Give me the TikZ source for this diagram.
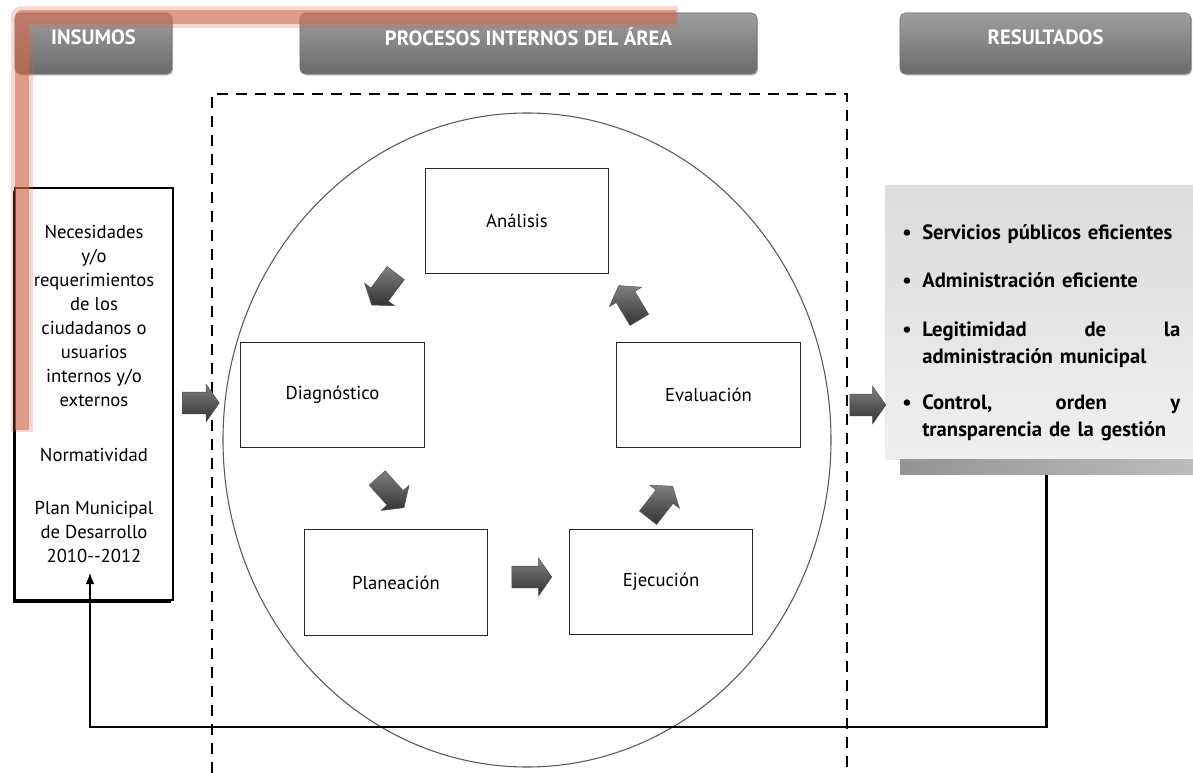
\documentclass[tikz,border=0pt]{standalone}
\usepackage{fontspec}
\setmainfont{PT Sans}
\usetikzlibrary{shapes.geometric,shapes.arrows,shadows,calc,arrows.meta}
\definecolor{glow}{RGB}{210,105,78}
\begin{document}
\begin{tikzpicture}[x=0.75pt,y=-0.75pt]
\tikzset{
 hdrbox/.style={rounded corners=4pt, top color=black!38, bottom color=black!58, draw=black!58, line width=0.4pt, drop shadow={shadow xshift=0.8pt, shadow yshift=-1.2pt, opacity=0.45}, inner sep=0, minimum height=45.75pt},
 hdrtext/.style={text=white, font=\bfseries\fontsize{15.5}{18}\selectfont, inner sep=0},
 procbox/.style={draw=black!85, line width=0.9pt, minimum width=137.5pt, minimum height=79pt, inner sep=0, font=\fontsize{14}{16}\selectfont, fill=white},
 blockarrow/.style={single arrow, inner xsep=0pt, inner ysep=8pt, minimum width=0pt, minimum height=30pt, single arrow head extend=6pt, single arrow tip angle=110, top color=black!50, bottom color=black!80, draw=black!70, line width=0.3pt},
 restext/.style={font=\bfseries\fontsize{15.5}{20}\selectfont, text width=193.5pt, align=left, inner sep=0, anchor=west},
 fb/.style={line width=2.2pt, -{Latex[length=9pt,width=6.5pt]}},
}
\useasboundingbox (0,0) rectangle (1193,773);
\fill[white] (0,0) rectangle (1193,773);

% header boxes
\node[hdrbox, minimum width=117.75pt] (hIns) at (93.5,43.5) {};
\node[hdrbox, minimum width=342.75pt] (hPro) at (528.5,43.5) {};
\node[hdrbox, minimum width=218.25pt] (hRes) at (1045.5,43.5) {};
\node[hdrtext] (tIns) at (93.5,37) {INSUMOS};
\node[hdrtext] (tPro) at (528.5,37) {PROCESOS INTERNOS DEL ÁREA};
\node[hdrtext] (tRes) at (1045.5,37) {RESULTADOS};

% ellipse and dashed frame
\node[ellipse, draw=black!65, line width=0.8pt, minimum width=456pt, minimum height=490.5pt, inner sep=0] (circ) at (527,440) {};
\draw[line width=2pt, dash pattern=on 8.25pt off 6pt] (212,773) -- (212,94) -- (847,94) -- (847,773);

% process boxes
\node[procbox] (ana) at (517,221) {Análisis};
\node[procbox] (dia) at (332.5,395) {Diagnóstico};
\node[procbox] (eva) at (708.5,395) {Evaluación};
\node[procbox] (pla) at (396,582.5) {Planeación};
\node[procbox] (eje) at (661,582) {Ejecución};

% block arrows in cycle
\node[blockarrow, rotate=233] (a1) at (386,286) {};
\node[blockarrow, rotate=-48] (a2) at (388,490) {};
\node[blockarrow] (a3) at (528,577) {};
\node[blockarrow, rotate=52] (a4) at (658,505) {};
\node[blockarrow, rotate=121] (a5) at (631,306) {};

% left box
\node[draw=black, line width=1.2pt, fill=white, minimum width=118.5pt, minimum height=309pt, inner sep=0, align=center, font=\fontsize{14}{18}\selectfont, drop shadow={shadow xshift=-1.5pt, shadow yshift=-2pt, opacity=1, fill=black}] (left) at (94,394) {Necesidades\\y/o\\requerimientos\\de los\\ciudadanos o\\usuarios\\internos y/o\\externos\\[23pt]Normatividad\\[22pt]Plan Municipal\\de Desarrollo\\2010-{}-2012};

% results box
\node[minimum width=231pt, minimum height=206pt, top color=black!14, bottom color=black!6, inner sep=0] (res) at (1039,322.5) {};
\node[minimum width=219.75pt, minimum height=11.25pt, left color=black!42, right color=black!26, inner sep=0] (resbar) at (1046.5,467.5) {};
\node[restext] (r1) at (922,234) {\llap{\textbullet\hspace{8pt}}Servicios públicos eficientes};
\node[restext] (r2) at (922,280) {\llap{\textbullet\hspace{8pt}}Administración eficiente};
\node[restext] (r3) at (922,345) {\llap{\textbullet\hspace{8pt}}\hbox to 193.5pt{Legitimidad\hfill de\hfill la}\\administración municipal};
\node[restext] (r4) at (922,418) {\llap{\textbullet\hspace{8pt}}\hbox to 193.5pt{Control,\hfill orden\hfill y}\\transparencia de la gestión};

% in/out arrows
\node[blockarrow, minimum height=27.75pt] (ain) at (197,403) {};
\node[blockarrow, minimum height=27pt] (aout) at (864,405) {};

% feedback
\coordinate (fblow) at (90,727);
\coordinate (fbin) at (90,572);
\draw[fb] (resbar.south) |- (fblow) -- (fbin);

% red glow
\draw[draw=glow, opacity=0.25, line width=17pt, line join=round] (22,432) -- (22,17) -- (678,17);
\draw[draw=glow, opacity=0.55, line width=10pt, line join=round] (22,430) -- (22,17) -- (676,17);
\end{tikzpicture}
\end{document}
